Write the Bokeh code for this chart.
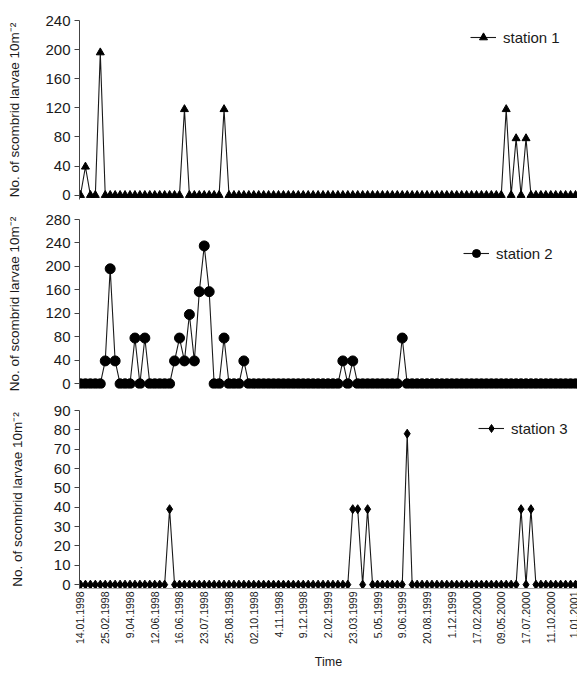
import math
from bokeh.plotting import figure
from bokeh.models import FixedTicker, Legend, LegendItem, Range1d
from bokeh.layouts import column
from bokeh.embed import file_html
from bokeh.resources import INLINE

# ---------------- data ----------------
sample_index = list(range(101))

station_1 = [0, 39, 0, 0, 196, 0, 0, 0, 0, 0,
             0, 0, 0, 0, 0, 0, 0, 0, 0, 0,
             0, 118, 0, 0, 0, 0, 0, 0, 0, 118,
             0, 0, 0, 0, 0, 0, 0, 0, 0, 0,
             0, 0, 0, 0, 0, 0, 0, 0, 0, 0,
             0, 0, 0, 0, 0, 0, 0, 0, 0, 0,
             0, 0, 0, 0, 0, 0, 0, 0, 0, 0,
             0, 0, 0, 0, 0, 0, 0, 0, 0, 0,
             0, 0, 0, 0, 0, 0, 118, 0, 78, 0,
             78, 0, 0, 0, 0, 0, 0, 0, 0, 0,
             0]

station_2 = [0, 0, 0, 0, 0, 39, 196, 39, 0, 0,
             0, 78, 0, 78, 0, 0, 0, 0, 0, 39,
             78, 39, 118, 39, 157, 235, 157, 0, 0, 78,
             0, 0, 0, 39, 0, 0, 0, 0, 0, 0,
             0, 0, 0, 0, 0, 0, 0, 0, 0, 0,
             0, 0, 0, 39, 0, 39, 0, 0, 0, 0,
             0, 0, 0, 0, 0, 78, 0, 0, 0, 0,
             0, 0, 0, 0, 0, 0, 0, 0, 0, 0,
             0, 0, 0, 0, 0, 0, 0, 0, 0, 0,
             0, 0, 0, 0, 0, 0, 0, 0, 0, 0,
             0]

station_3 = [0, 0, 0, 0, 0, 0, 0, 0, 0, 0,
             0, 0, 0, 0, 0, 0, 0, 0, 39, 0,
             0, 0, 0, 0, 0, 0, 0, 0, 0, 0,
             0, 0, 0, 0, 0, 0, 0, 0, 0, 0,
             0, 0, 0, 0, 0, 0, 0, 0, 0, 0,
             0, 0, 0, 0, 0, 39, 39, 0, 39, 0,
             0, 0, 0, 0, 0, 0, 78, 0, 0, 0,
             0, 0, 0, 0, 0, 0, 0, 0, 0, 0,
             0, 0, 0, 0, 0, 0, 0, 0, 0, 39,
             0, 39, 0, 0, 0, 0, 0, 0, 0, 0,
             0]

date_tick_index = [0, 5, 10, 15, 20, 25, 30, 35, 40, 45, 50,
                   55, 60, 65, 70, 75, 80, 85, 90, 95, 100]
date_tick_labels = ["14.01.1998", "25.02.1998", "9.04.1998", "12.06.1998",
                    "16.06.1998", "23.07.1998", "25.08.1998", "02.10.1998",
                    "4.11.1998", "9.12.1998", "2.02.1999", "23.03.1999",
                    "5.05.1999", "9.06.1999", "20.08.1999", "1.12.1999",
                    "17.02.2000", "09.05.2000", "17.07.2000", "11.10.2000",
                    "1.01.2001"]

ticks_1 = [0, 40, 80, 120, 160, 200, 240]
ticks_2 = [0, 40, 80, 120, 160, 200, 240, 280]
ticks_3 = [0, 10, 20, 30, 40, 50, 60, 70, 80, 90]

y_title = "No. of scombrid larvae 10m\u207b\u00b2"
FONT = "Liberation Sans"
INK = "#1a1a1a"
AXIS = "#444444"

x_range = Range1d(-0.2, 100.4)


def panel(values, marker, msize, y_start, y_end, ticks, name, height,
          top, bottom, title_standoff, leg_margin, leg_padding,
          label_w, with_x_axis):
    p = figure(width=577, height=height, output_backend="svg",
               toolbar_location=None, x_range=x_range,
               y_range=Range1d(y_start, y_end),
               x_axis_location="below" if with_x_axis else None,
               min_border_left=79, min_border_right=0,
               min_border_top=top, min_border_bottom=bottom)
    p.grid.visible = False
    p.outline_line_color = None
    p.background_fill_color = "white"

    ln = p.line(sample_index, values, line_color=INK, line_width=1.1)
    sc = p.scatter(sample_index, values, marker=marker, size=msize,
                   fill_color="black", line_color="black")

    ya = p.yaxis[0]
    ya.ticker = FixedTicker(ticks=ticks)
    ya.axis_label = y_title
    ya.axis_label_text_font = FONT
    ya.axis_label_text_font_size = "13.5px"
    ya.axis_label_text_font_style = "normal"
    ya.axis_label_text_color = INK
    ya.axis_label_standoff = title_standoff
    ya.major_label_text_font = FONT
    ya.major_label_text_font_size = "15px"
    ya.major_label_text_color = INK
    ya.major_label_standoff = 4
    ya.major_tick_out = 5
    ya.major_tick_in = 0
    ya.minor_tick_line_color = None
    ya.axis_line_color = AXIS
    ya.major_tick_line_color = AXIS

    if with_x_axis:
        xa = p.xaxis[0]
        xa.ticker = FixedTicker(ticks=date_tick_index)
        xa.major_label_overrides = {t: l for t, l in zip(date_tick_index, date_tick_labels)}
        xa.major_label_orientation = math.pi / 2
        xa.major_label_text_font = FONT
        xa.major_label_text_font_size = "10.5px"
        xa.major_label_text_color = INK
        xa.major_label_standoff = 3
        xa.major_tick_out = 0
        xa.major_tick_in = 0
        xa.minor_tick_line_color = None
        xa.axis_line_color = "#aaaaaa"
        xa.axis_label = "Time"
        xa.axis_label_text_font = FONT
        xa.axis_label_text_font_size = "12.5px"
        xa.axis_label_text_font_style = "normal"
        xa.axis_label_text_color = INK
        xa.axis_label_standoff = 8

    legend = Legend(items=[LegendItem(label=name, renderers=[ln, sc])],
                    location="top_right", margin=leg_margin,
                    padding=leg_padding, glyph_width=26, glyph_height=20,
                    label_height=20, label_width=label_w,
                    label_standoff=7, label_text_font=FONT,
                    label_text_font_size="15px", label_text_color=INK,
                    background_fill_alpha=0, border_line_alpha=0)
    p.add_layout(legend)
    return p


p1 = panel(station_1, "triangle", 8, -6, 240, ticks_1, "station 1", 206,
           20, 7, 20, 4, 3, 67, False)
p2 = panel(station_2, "circle", 10, -8, 280, ticks_2, "station 2", 190,
           13, 8, 20, 14, 10, 57, False)
p3 = panel(station_3, "diamond", 9, -2, 90, ticks_3, "station 3", 276,
           14, 80, 26, 4, 4, 58, True)

layout = column(p1, p2, p3, spacing=0)
open("out.html", "w").write(file_html(layout, INLINE))
